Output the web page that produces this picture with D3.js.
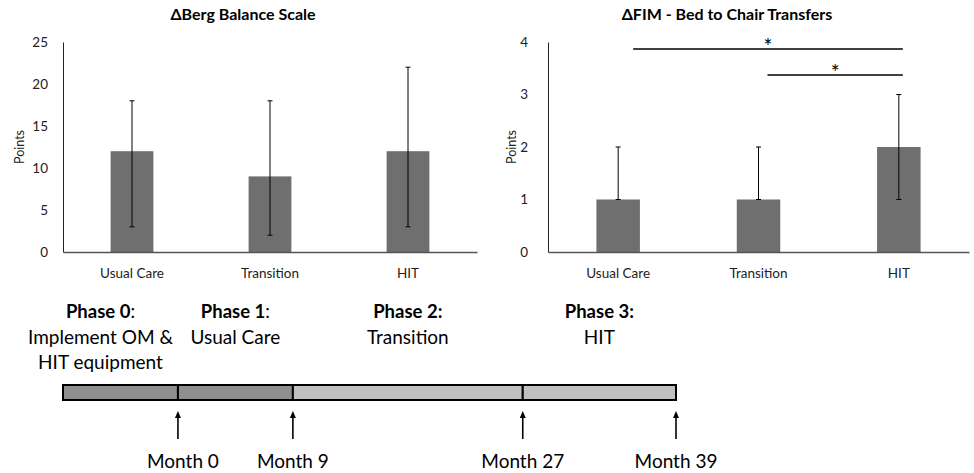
<!DOCTYPE html>
<html>
<head>
<meta charset="utf-8">
<script src="https://cdn.jsdelivr.net/npm/d3@7"></script>
<style>
  body { margin: 0; background: #fff; }
  svg { font-family: Lato, "Open Sans", sans-serif; }
</style>
</head>
<body>
<svg id="fig" width="974" height="473"></svg>
<script>
// groups shared by both panels
const groups = ["Usual Care", "Transition", "HIT"];

// ΔBerg Balance Scale
const bergMean = [12, 9, 12];
const bergLow = [3, 2, 3];
const bergHigh = [18, 18, 22];
const bergTicks = [0, 5, 10, 15, 20, 25];

// ΔFIM - Bed to Chair Transfers
const fimMean = [1, 1, 2];
const fimLow = [1, 1, 1];
const fimHigh = [2, 2, 3];
const fimTicks = [0, 1, 2, 3, 4];
const fimSig = [["Usual Care", "HIT"], ["Transition", "HIT"]];

// timeline
const phaseNames = ["Phase 0", "Phase 1", "Phase 2", "Phase 3"];
const phaseColon = ["normal", "normal", "bold", "bold"];
const phaseDesc = [["Implement OM &", "HIT equipment"], ["Usual Care"], ["Transition"], ["HIT"]];
const phaseStart = [-9, 0, 9, 27];
const phaseEnd = [0, 9, 27, 39];
const milestones = [0, 9, 27, 39];

const svg = d3.select("#fig");

function panel(opt) {
  const g = svg.append("g");
  const x = d3.scaleBand().domain(groups).range([opt.x0, opt.x1])
    .paddingInner(0.69).paddingOuter(0.345);
  const y = d3.scaleLinear().domain([0, opt.max]).range([252, 42]);

  // title
  g.append("text")
    .attr("x", opt.titleX).attr("y", 20)
    .attr("text-anchor", "middle")
    .style("font-size", "16px").style("font-weight", "bold")
    .text(opt.title);

  // y axis
  const ya = g.append("g")
    .attr("transform", "translate(" + opt.x0 + ",0)")
    .call(d3.axisLeft(y).tickValues(opt.ticks).tickFormat(d3.format("d")).tickSize(0).tickPadding(opt.pad));
  ya.select(".domain").attr("stroke", "#222");
  ya.selectAll("text").style("font-size", "13.5px").style("font-family", "Lato, sans-serif").attr("fill", "#222");

  g.append("text")
    .attr("transform", "translate(" + opt.labelX + ",147)rotate(-90)")
    .attr("text-anchor", "middle")
    .style("font-size", "12.5px").attr("fill", "#222")
    .text("Points");

  // bars
  g.selectAll(".bar")
    .data(opt.mean)
    .enter()
    .append("rect")
    .attr("x", (d, i) => x(groups[i]))
    .attr("y", d => y(d))
    .attr("width", x.bandwidth())
    .attr("height", d => y(0) - y(d))
    .attr("fill", "#6f6f6f");

  // x axis
  const xa = g.append("g")
    .attr("transform", "translate(0," + y(0) + ")")
    .call(d3.axisBottom(x).tickSize(0).tickPadding(16).tickSizeOuter(0));
  xa.select(".domain").attr("stroke", "#555").attr("stroke-width", 1.3);
  xa.selectAll("text").style("font-size", "13.5px").style("font-family", "Lato, sans-serif").attr("fill", "#222");

  // error bars
  const cx = i => x(groups[i]) + x.bandwidth() / 2;
  opt.mean.forEach((m, i) => {
    g.append("line")
      .attr("x1", cx(i)).attr("x2", cx(i))
      .attr("y1", y(opt.low[i])).attr("y2", y(opt.high[i]))
      .attr("stroke", "#000").attr("stroke-width", 1);
    [opt.low[i], opt.high[i]].forEach(v => {
      g.append("line")
        .attr("x1", cx(i) - 2.5).attr("x2", cx(i) + 2.5)
        .attr("y1", y(v)).attr("y2", y(v))
        .attr("stroke", "#000").attr("stroke-width", 1);
    });
  });

  // significance brackets
  (opt.sig || []).forEach((pair, k) => {
    const a = x(pair[0]) + x.bandwidth() / 2 + (k === 0 ? 15 : 9);
    const b = x(pair[1]) + x.bandwidth() / 2 + 4;
    const ly = 49 + k * 26;
    g.append("line")
      .attr("x1", a).attr("x2", b).attr("y1", ly).attr("y2", ly)
      .attr("stroke", "#000").attr("stroke-width", 1.3);
    g.append("text")
      .attr("x", (a + b) / 2).attr("y", ly + 5)
      .attr("text-anchor", "middle")
      .style("font-size", "21px")
      .text("*");
  });
}

panel({ x0: 63, x1: 477, max: 25, ticks: bergTicks, mean: bergMean, low: bergLow, high: bergHigh,
        title: "\u0394Berg Balance Scale", titleX: 243, labelX: 24, pad: 15 });
panel({ x0: 548, x1: 969, max: 4, ticks: fimTicks, mean: fimMean, low: fimLow, high: fimHigh,
        sig: fimSig, title: "\u0394FIM - Bed to Chair Transfers", titleX: 727, labelX: 516, pad: 20 });

// timeline
const t = d3.scaleLinear().domain([-9, 39]).range([63, 676]);
const tl = svg.append("g");

tl.selectAll(".phase")
  .data(phaseStart)
  .enter()
  .append("rect")
  .attr("x", d => t(d))
  .attr("y", 385)
  .attr("width", (d, i) => t(phaseEnd[i]) - t(d))
  .attr("height", 15)
  .attr("fill", (d, i) => i < 2 ? "#8f8f8f" : "#c0c0c0")
  .attr("stroke", "#000")
  .attr("stroke-width", 2);

phaseNames.forEach((name, i) => {
  const mx = (t(phaseStart[i]) + t(phaseEnd[i])) / 2 + (i === 0 ? -20 : 0);
  const head = tl.append("text")
    .attr("x", mx).attr("y", 318)
    .attr("text-anchor", "middle")
    .style("font-size", "18.5px");
  head.append("tspan").style("font-weight", "bold").text(name);
  head.append("tspan").style("font-weight", phaseColon[i]).text(":");
  phaseDesc[i].forEach((line, j) => {
    tl.append("text")
      .attr("x", mx).attr("y", 344 + j * 25)
      .attr("text-anchor", "middle")
      .style("font-size", "19px")
      .text(line);
  });
});

// month arrows
milestones.forEach(m => {
  const mx = t(m);
  tl.append("line")
    .attr("x1", mx).attr("x2", mx).attr("y1", 439).attr("y2", 416)
    .attr("stroke", "#000").attr("stroke-width", 1.6);
  tl.append("path")
    .attr("d", "M" + (mx - 3) + ",418L" + mx + ",411L" + (mx + 3) + ",418Z")
    .attr("fill", "#000");
  tl.append("text")
    .attr("x", mx + (m === 0 ? 5 : 0)).attr("y", 468)
    .attr("text-anchor", "middle")
    .style("font-size", "19px")
    .text("Month " + m);
});
</script>
</body>
</html>
